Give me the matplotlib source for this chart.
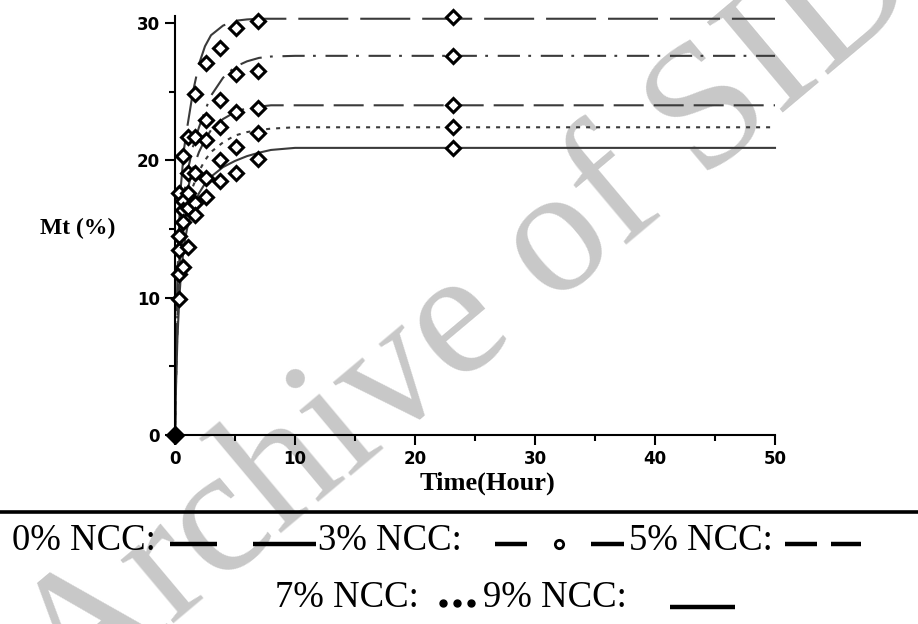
import matplotlib
matplotlib.use('Agg')
import matplotlib.pyplot as plt
from matplotlib.lines import Line2D

# measured points (time in hours, Mt in %)
t_pts = [0, 0.33, 0.67, 1.08, 1.67, 2.58, 3.75, 5.08, 6.92, 23.2]
mt_0 = [0, 17.6, 20.3, 21.7, 24.8, 27.1, 28.2, 29.6, 30.1, 30.4]
mt_3 = [0, 14.5, 17.0, 19.1, 21.7, 22.9, 24.4, 26.3, 26.5, 27.6]
mt_5 = [0, 13.5, 16.4, 17.6, 19.1, 21.5, 22.4, 23.5, 23.8, 24.0]
mt_7 = [0, 11.7, 15.5, 16.5, 16.9, 18.7, 20.0, 21.0, 22.0, 22.4]
mt_9 = [0, 9.9, 12.2, 13.7, 16.0, 17.3, 18.5, 19.1, 20.1, 20.9]

# fitted curves
t_fit = [0, 0.05, 0.1, 0.2, 0.35, 0.5, 0.75, 1, 1.5, 2, 2.5, 3, 4, 5, 6, 7, 8, 10, 12, 50]
fit_0 = [0, 4, 7, 11.5, 15.5, 18.2, 20.8, 22.3, 25.0, 27.0, 28.3, 29.1, 29.8, 30.15, 30.25, 30.3, 30.3, 30.3, 30.3, 30.3]
fit_3 = [0, 3, 5.5, 9, 12.5, 15, 17.5, 19, 21, 22.4, 23.6, 24.7, 26.0, 26.8, 27.2, 27.45, 27.55, 27.6, 27.6, 27.6]
fit_5 = [0, 2.8, 5, 8.5, 11.8, 14, 16.3, 17.7, 19.4, 20.6, 21.5, 22.2, 23.0, 23.5, 23.8, 23.9, 24.0, 24.0, 24.0, 24.0]
fit_7 = [0, 2.5, 4.5, 7.8, 10.8, 13, 15.2, 16.5, 18.1, 19.2, 20.0, 20.6, 21.3, 21.8, 22.05, 22.2, 22.3, 22.4, 22.4, 22.4]
fit_9 = [0, 2.2, 4, 7, 9.8, 11.8, 13.8, 15, 16.6, 17.6, 18.3, 18.8, 19.5, 19.95, 20.3, 20.55, 20.75, 20.9, 20.9, 20.9]

labels = ['0% NCC:', '3% NCC:', '5% NCC:', '7% NCC:', '9% NCC:']

plt.rcParams['lines.scale_dashes'] = False

W, H = 918, 624
fig = plt.figure(figsize=(W / 100, H / 100), dpi=100)

def fx(px):
    return px / W

def fy(py):
    return 1 - py / H

ax = fig.add_axes([fx(175), fy(435), fx(775) - fx(175), fy(16) - fy(435)])
ax.patch.set_alpha(0)

line_col = '#3a3a3a'
styles = [(0, (36, 8.6)), (0, (16, 6, 2, 7)), (0, (21.6, 7.2)), (0, (2.9, 4.3)), '-']
series = [(mt_0, fit_0), (mt_3, fit_3), (mt_5, fit_5), (mt_7, fit_7), (mt_9, fit_9)]

for (pts, fit), ls in zip(series, styles):
    ax.plot(t_fit, fit, color=line_col, lw=1.5, linestyle=ls, clip_on=False)
    ax.plot(t_pts, pts, linestyle='none', marker='D', ms=7, mew=2.2,
            mfc='white', mec='black', clip_on=False, zorder=3)

# origin marker looks filled in the original
ax.plot([t_pts[0]], [mt_0[0]], marker='D', ms=9, color='black', clip_on=False, zorder=4)

ax.set_xlim(0, 50)
ax.set_ylim(0, 30.5)
ax.set_xticks([0, 10, 20, 30, 40, 50])
ax.set_xticks([5, 15, 25, 35, 45], minor=True)
ax.set_yticks([0, 10, 20, 30])
ax.set_yticks([5, 15, 25], minor=True)
for s in ['top', 'right']:
    ax.spines[s].set_visible(False)
for s in ['left', 'bottom']:
    ax.spines[s].set_linewidth(1.5)
ax.tick_params(which='major', direction='out', length=7, width=1.5, pad=4)
ax.tick_params(which='minor', direction='out', length=4, width=1.5)
for lab in ax.get_xticklabels() + ax.get_yticklabels():
    lab.set_fontweight('bold')
    lab.set_fontsize(12)

fig.text(fx(40), fy(228), 'Mt (%)', fontsize=17, fontweight='bold',
         family='Liberation Serif', va='center', ha='left')
fig.text(fx(487), fy(483), 'Time(Hour)', fontsize=19, fontweight='bold',
         family='Liberation Serif', va='center', ha='center')

# watermark
fig.text(fx(470), fy(318), 'Archive of SID', fontsize=130, color='#c8c8c8',
         family='Liberation Serif', rotation=40, ha='center', va='center',
         rotation_mode='anchor', zorder=-1)

# separator
fig.add_artist(Line2D([0, 1], [fy(512), fy(512)], color='black', lw=2.6))

# custom legend underneath
lfs = 26.5
r1, r2 = 541, 598
fig.text(fx(12), fy(r1), labels[0], fontsize=lfs, family='Liberation Serif', va='center')
fig.text(fx(318), fy(r1), labels[1], fontsize=lfs, family='Liberation Serif', va='center')
fig.text(fx(629), fy(r1), labels[2], fontsize=lfs, family='Liberation Serif', va='center')
fig.text(fx(275), fy(r2), labels[3], fontsize=lfs, family='Liberation Serif', va='center')
fig.text(fx(483), fy(r2), labels[4], fontsize=lfs, family='Liberation Serif', va='center')

sy1 = fy(r1 + 3)
lw_leg = 3.2
for x0, x1 in [(170, 217), (253, 316), (495, 527), (591, 624), (785, 817), (831, 861)]:
    fig.add_artist(Line2D([fx(x0), fx(x1)], [sy1, sy1], color='black', lw=lw_leg,
                          solid_capstyle='butt'))
fig.add_artist(Line2D([fx(559)], [sy1], marker='o', ms=6, mew=2, mfc='white', mec='black'))
sy2 = fy(r2 + 5)
for xd in [443, 457, 471]:
    fig.add_artist(Line2D([fx(xd)], [sy2], marker='o', ms=5, color='black'))
fig.add_artist(Line2D([fx(670), fx(735)], [fy(r2 + 9), fy(r2 + 9)], color='black',
                      lw=lw_leg, solid_capstyle='butt'))

fig.savefig('out.png', dpi=100)
